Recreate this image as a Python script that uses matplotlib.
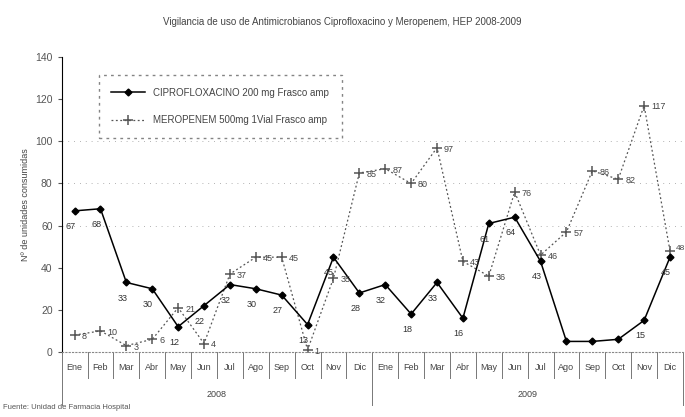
import matplotlib.pyplot as plt
from matplotlib.transforms import blended_transform_factory

plt.rcParams["font.family"] = ["Liberation Sans", "DejaVu Sans"]

months = ["Ene", "Feb", "Mar", "Abr", "May", "Jun", "Jul", "Ago", "Sep", "Oct", "Nov", "Dic"] * 2
years = ["2008", "2009"]
cipro = [67, 68, 33, 30, 12, 22, 32, 30, 27, 13, 45, 28,
         32, 18, 33, 16, 61, 64, 43, 5, 5, 6, 15, 45]
mero = [8, 10, 3, 6, 21, 4, 37, 45, 45, 1, 35, 85,
        87, 80, 97, 43, 36, 76, 46, 57, 86, 82, 117, 48]
cipro_label = "CIPROFLOXACINO 200 mg Frasco amp"
mero_label = "MEROPENEM 500mg 1Vial Frasco amp"

fig = plt.figure(figsize=(6.85, 4.17), dpi=100)
ax = fig.add_axes([0.09, 0.156, 0.907, 0.707])
x = list(range(len(months)))

ax.plot(x, cipro, color="black", lw=1.1, marker="D", ms=3.5, label=cipro_label, zorder=3)
ax.plot(x, mero, color="#555555", lw=0.9, ls=(0, (1.5, 2)), marker="+", ms=7,
        mew=1.1, label=mero_label, zorder=2)

for xi, v in zip(x, cipro):
    if v < 8:
        continue  # hidden under the axis in the original
    ax.annotate(str(v), (xi, v), xytext=(-3, -13), textcoords="offset points",
                fontsize=6.5, color="#333333", ha="center")
for xi, v in zip(x, mero):
    if xi == 23:
        ax.annotate(str(v), (xi, v), xytext=(4, 2), textcoords="offset points",
                    fontsize=6, color="#444444", ha="left", va="center",
                    annotation_clip=False)
        continue
    ax.annotate(str(v), (xi, v), xytext=(5, -1), textcoords="offset points",
                fontsize=6.5, color="#444444", ha="left", va="center")

ax.set_xlim(-0.5, 23.5)
ax.set_ylim(0, 140)
ax.set_yticks(range(0, 141, 20))
ax.tick_params(axis="y", labelsize=7.5, labelcolor="#555555", length=3, color="#555555")
ax.set_xticks(x)
ax.set_xticklabels(months, fontsize=6.5, color="#444444")
ax.tick_params(axis="x", length=0, pad=8)
for s in ["top", "right"]:
    ax.spines[s].set_visible(False)
ax.spines["bottom"].set_linestyle((0, (1, 2)))
ax.spines["bottom"].set_color("#888888")
ax.spines["left"].set_color("black")
for g in [60, 80, 100]:
    ax.axhline(g, color="#999999", lw=0.6, ls=(0, (1, 6)), zorder=0)

trans = blended_transform_factory(ax.transData, ax.transAxes)
for b in [i + 0.5 for i in range(-1, 24)]:
    depth = -0.18 if b in (-0.5, 11.5, 23.5) else -0.09
    ax.plot([b, b], [0, depth], transform=trans, color="#777777", lw=0.7,
            clip_on=False)
ax.text(5.5, -0.146, years[0], transform=trans, ha="center", va="center",
        fontsize=6.5, color="#444444")
ax.text(17.5, -0.146, years[1], transform=trans, ha="center", va="center",
        fontsize=6.5, color="#444444")

ax.set_ylabel("Nº de unidades consumidas", fontsize=6.5, color="#444444")
fig.suptitle("Vigilancia de uso de Antimicrobianos Ciprofloxacino y Meropenem, HEP 2008-2009",
             y=0.96, fontsize=7, color="#444444")
fig.text(0.005, 0.02, "Fuente: Unidad de Farmacia Hospital", fontsize=5.5, color="#555555")

leg = ax.legend(loc="upper left", bbox_to_anchor=(0.052, 0.955), fontsize=7,
                frameon=True, fancybox=False, borderpad=1.3, labelspacing=1.8,
                handlelength=3.5)
leg.get_frame().set_edgecolor("#666666")
leg.get_frame().set_linestyle((0, (2, 3)))
for t in leg.get_texts():
    t.set_color("#444444")

fig.savefig("out.png", dpi=100)
